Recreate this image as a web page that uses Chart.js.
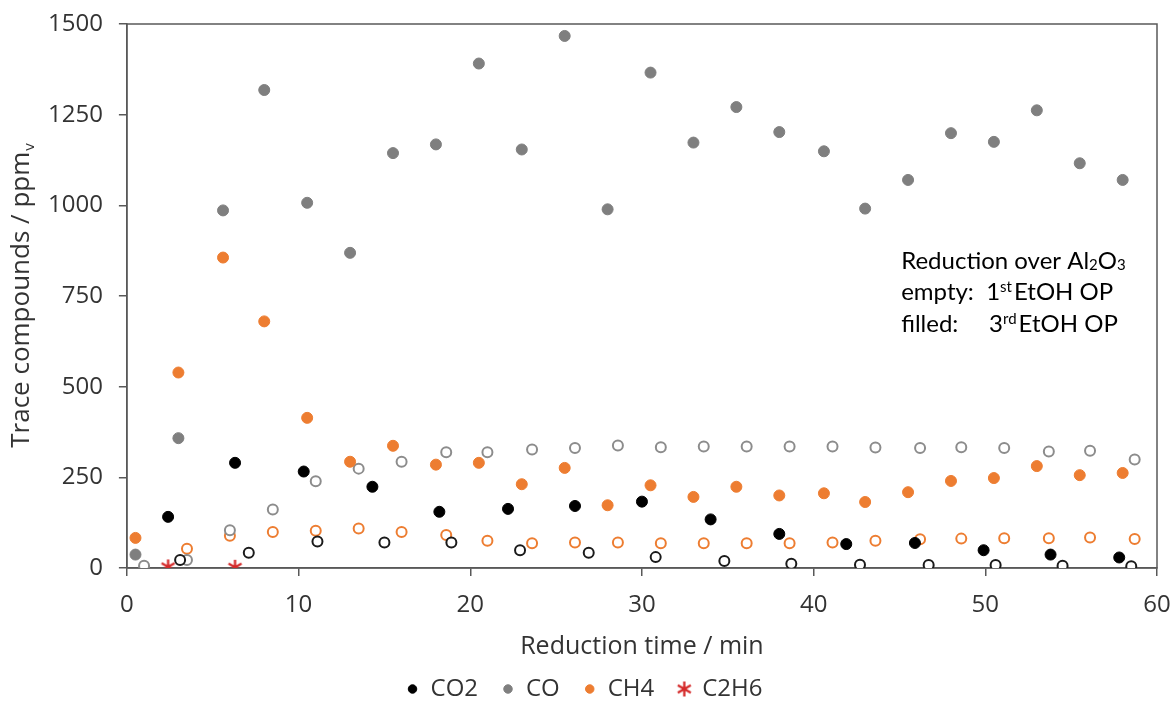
<!DOCTYPE html>
<html>
<head>
<meta charset="utf-8">
<script src="https://cdn.jsdelivr.net/npm/chart.js@4/dist/chart.umd.min.js"></script>
<style>
  html, body { margin: 0; padding: 0; background: #ffffff; }
  #wrap { width: 1173px; height: 704px; }
</style>
</head>
<body>
<div id="wrap"><canvas id="chart"></canvas></div>
<script>
// Reduction time (min) and trace compound concentrations (ppmv)
// "3rd" = filled markers (3rd EtOH OP), "1st" = empty markers (1st EtOH OP)
const co2Time3rd  = [2.4, 6.3, 10.3, 14.3, 18.2, 22.2, 26.1, 30.0, 34.0, 38.0, 41.9, 45.9, 49.9, 53.8, 57.8];
const co2Value3rd = [141, 290, 266, 224, 155, 163, 171, 183, 134, 94, 66, 69, 49, 37, 29];

const co2Time1st  = [3.1, 7.1, 11.1, 15.0, 18.9, 22.9, 26.9, 30.8, 34.8, 38.7, 42.7, 46.7, 50.6, 54.5, 58.5];
const co2Value1st = [22, 42, 73, 70, 70, 49, 42, 30, 19, 12, 9, 8, 8, 6, 5];

const coTime3rd  = [0.5, 3.0, 5.6, 8.0, 10.5, 13.0, 15.5, 18.0, 20.5, 23.0, 25.5, 28.0, 30.5, 33.0, 35.5, 38.0, 40.6, 43.0, 45.5, 48.0, 50.5, 53.0, 55.5, 58.0];
const coValue3rd = [37, 358, 986, 1318, 1007, 869, 1144, 1168, 1391, 1154, 1467, 989, 1366, 1173, 1271, 1202, 1149, 991, 1070, 1199, 1175, 1262, 1116, 1070];

const coTime1st  = [1.0, 3.5, 6.0, 8.5, 11.0, 13.5, 16.0, 18.6, 21.0, 23.6, 26.1, 28.6, 31.1, 33.6, 36.1, 38.6, 41.1, 43.6, 46.2, 48.6, 51.1, 53.7, 56.1, 58.7];
const coValue1st = [6, 22, 104, 161, 239, 274, 293, 319, 319, 327, 331, 338, 333, 335, 335, 335, 335, 332, 331, 333, 331, 321, 323, 299];

const ch4Time3rd  = coTime3rd;
const ch4Value3rd = [83, 539, 856, 680, 414, 293, 337, 285, 290, 231, 276, 173, 228, 196, 224, 200, 206, 182, 209, 240, 248, 281, 256, 262];

const ch4Time1st  = [3.5, 6.0, 8.5, 11.0, 13.5, 16.0, 18.6, 21.0, 23.6, 26.1, 28.6, 31.1, 33.6, 36.1, 38.6, 41.1, 43.6, 46.2, 48.6, 51.1, 53.7, 56.1, 58.7];
const ch4Value1st = [53, 89, 99, 103, 109, 99, 91, 75, 68, 70, 70, 68, 68, 68, 68, 70, 75, 79, 81, 82, 82, 84, 80];

const c2h6Time3rd  = [2.4, 6.3];
const c2h6Value3rd = [3, 2];

const xTicks = [0, 10, 20, 30, 40, 50, 60];
const yTicks = [0, 250, 500, 750, 1000, 1250, 1500];

const seriesNames = ['CO2', 'CO', 'CH4', 'C2H6'];

function pairs(xs, ys) { return xs.map((x, i) => ({ x: x, y: ys[i] })); }

// six-armed asterisk marker for C2H6
function asterisk(size, color, lw) {
  const c = document.createElement('canvas');
  c.width = size; c.height = size;
  const g = c.getContext('2d');
  g.strokeStyle = color; g.lineWidth = lw; g.lineCap = 'butt';
  const m = size / 2, r = size / 2 - 1;
  g.beginPath();
  for (const a of [90, 30, -30]) {
    const t = a * Math.PI / 180;
    g.moveTo(m - r * Math.cos(t), m - r * Math.sin(t));
    g.lineTo(m + r * Math.cos(t), m + r * Math.sin(t));
  }
  g.stroke();
  return c;
}
const RED = '#d42a2a';
const starMarker = asterisk(17, RED, 2.3);

const BLACK = '#000000', GREY = '#7f7f7f', ORANGE = '#ed7d31';
const TEXT = '#333333', AXIS = '#595959';
const FONT = '"Open Sans"';

function filled(label, data, color) {
  return { label, data, pointStyle: 'circle', pointRadius: 5.5, pointHoverRadius: 5.5,
           pointBackgroundColor: color, pointBorderColor: color, pointBorderWidth: 1,
           backgroundColor: color, borderColor: color, showLine: false };
}
function hollow(label, data, color) {
  return { label, data, pointStyle: 'circle', pointRadius: 5, pointHoverRadius: 5,
           pointBackgroundColor: '#ffffff', pointBorderColor: color, pointBorderWidth: 2,
           backgroundColor: '#ffffff', borderColor: color, showLine: false };
}

const datasets = [
  filled(seriesNames[0], pairs(co2Time3rd, co2Value3rd), BLACK),
  filled(seriesNames[1], pairs(coTime3rd, coValue3rd), GREY),
  filled(seriesNames[2], pairs(ch4Time3rd, ch4Value3rd), ORANGE),
  { label: seriesNames[3], data: pairs(c2h6Time3rd, c2h6Value3rd), pointStyle: starMarker,
    pointRadius: 8, backgroundColor: RED, borderColor: RED, showLine: false },
  hollow('CO2 (1st)', pairs(co2Time1st, co2Value1st), '#1a1a1a'),
  hollow('CO (1st)', pairs(coTime1st, coValue1st), '#8c8c8c'),
  hollow('CH4 (1st)', pairs(ch4Time1st, ch4Value1st), ORANGE)
];

// frame around the plot, rotated y title with subscript, and the note text
const decor = {
  id: 'decor',
  beforeDatasetsDraw(chart) {
    const { ctx, chartArea: a } = chart;
    ctx.save();
    ctx.strokeStyle = AXIS; ctx.lineWidth = 1.5;
    ctx.strokeRect(a.left, a.top, a.right - a.left, a.bottom - a.top);
    ctx.restore();
  },
  afterDraw(chart) {
    const { ctx, chartArea: a, scales } = chart;
    ctx.save();
    // y axis title
    ctx.translate(22, (a.top + a.bottom) / 2);
    ctx.rotate(-Math.PI / 2);
    ctx.fillStyle = TEXT;
    ctx.textBaseline = 'middle';
    const main = 'Trace compounds / ppm';
    const bigF = '26px ' + FONT, subF = '15px ' + FONT;
    ctx.font = bigF;
    const w1 = ctx.measureText(main).width;
    ctx.font = subF;
    const w2 = ctx.measureText('v').width;
    const start = -(w1 + w2) / 2;
    ctx.textAlign = 'left';
    ctx.font = bigF;
    ctx.fillText(main, start, 0);
    ctx.font = subF;
    ctx.fillText('v', start + w1 + 1, 8);
    ctx.restore();

    // note text
    ctx.save();
    ctx.fillStyle = '#000000';
    ctx.textBaseline = 'alphabetic';
    ctx.textAlign = 'left';
    const x0 = scales.x.getPixelForValue(45.1);
    const big = '24px Lato', small = '15px Lato';
    function run(parts, x, y) {
      for (const p of parts) {
        ctx.font = p.f;
        ctx.fillText(p.t, x, y + (p.dy || 0));
        x += ctx.measureText(p.t).width + (p.gap || 0);
      }
    }
    const y1 = scales.y.getPixelForValue(825);
    const lh = 31.5;
    run([{ t: 'Reduction over Al', f: big }, { t: '2', f: small, dy: 1 }, { t: 'O', f: big }, { t: '3', f: small, dy: 1 }], x0, y1);
    run([{ t: 'empty:  1', f: big }, { t: 'st', f: small, dy: -8, gap: 2 }, { t: 'EtOH OP', f: big }], x0, y1 + lh);
    run([{ t: 'filled:     3', f: big }, { t: 'rd', f: small, dy: -8, gap: 2 }, { t: 'EtOH OP', f: big }], x0, y1 + lh * 2);
    ctx.restore();
  }
};

const legendGap = '\u2002\u2009\u2009';

new Chart(document.getElementById('chart'), {
  type: 'scatter',
  data: { datasets },
  options: {
    responsive: true,
    maintainAspectRatio: false,
    animation: false,
    layout: { padding: { left: 32, right: 16, top: 24, bottom: 0 } },
    plugins: {
      tooltip: { enabled: false },
      legend: {
        position: 'bottom',
        maxHeight: 31,
        labels: {
          usePointStyle: true,
          boxWidth: 12, boxHeight: 6,
          padding: 4,
          color: TEXT,
          font: { family: FONT, size: 24 },
          generateLabels(chart) {
            const items = Chart.defaults.plugins.legend.labels.generateLabels(chart).filter(it => it.datasetIndex < 4);
            items.forEach((it) => { it.text = it.text + legendGap; });
            return items;
          }
        }
      }
    },
    scales: {
      x: {
        type: 'linear', min: 0, max: 60,
        afterBuildTicks: (s) => { s.ticks = xTicks.map(v => ({ value: v })); },
        afterFit: (s) => { s.paddingLeft = 0; s.paddingRight = 0; },
        grid: { drawOnChartArea: false, drawTicks: true, tickLength: 8, color: AXIS, lineWidth: 1.5,
                tickColor: AXIS, tickWidth: 1.5 },
        border: { display: true, color: AXIS, width: 1.5 },
        ticks: { color: TEXT, padding: 17, font: { family: FONT, size: 24, lineHeight: 1.0 }, callback: (v) => String(v) },
        title: { display: true, text: 'Reduction time / min', color: TEXT,
                 font: { family: FONT, size: 25, lineHeight: 1.0 }, padding: { top: 0, bottom: 14 } }
      },
      y: {
        type: 'linear', min: 0, max: 1500,
        afterBuildTicks: (s) => { s.ticks = yTicks.map(v => ({ value: v })); },
        afterFit: (s) => { s.paddingTop = 0; s.paddingBottom = 0; },
        grid: { drawOnChartArea: false, drawTicks: true, tickLength: 8, color: AXIS, lineWidth: 1.5,
                tickColor: AXIS, tickWidth: 1.5 },
        border: { display: true, color: AXIS, width: 1.5 },
        ticks: { color: TEXT, padding: 16, font: { family: FONT, size: 24 }, callback: (v) => String(v) }
      }
    }
  },
  plugins: [decor]
});
</script>
</body>
</html>
